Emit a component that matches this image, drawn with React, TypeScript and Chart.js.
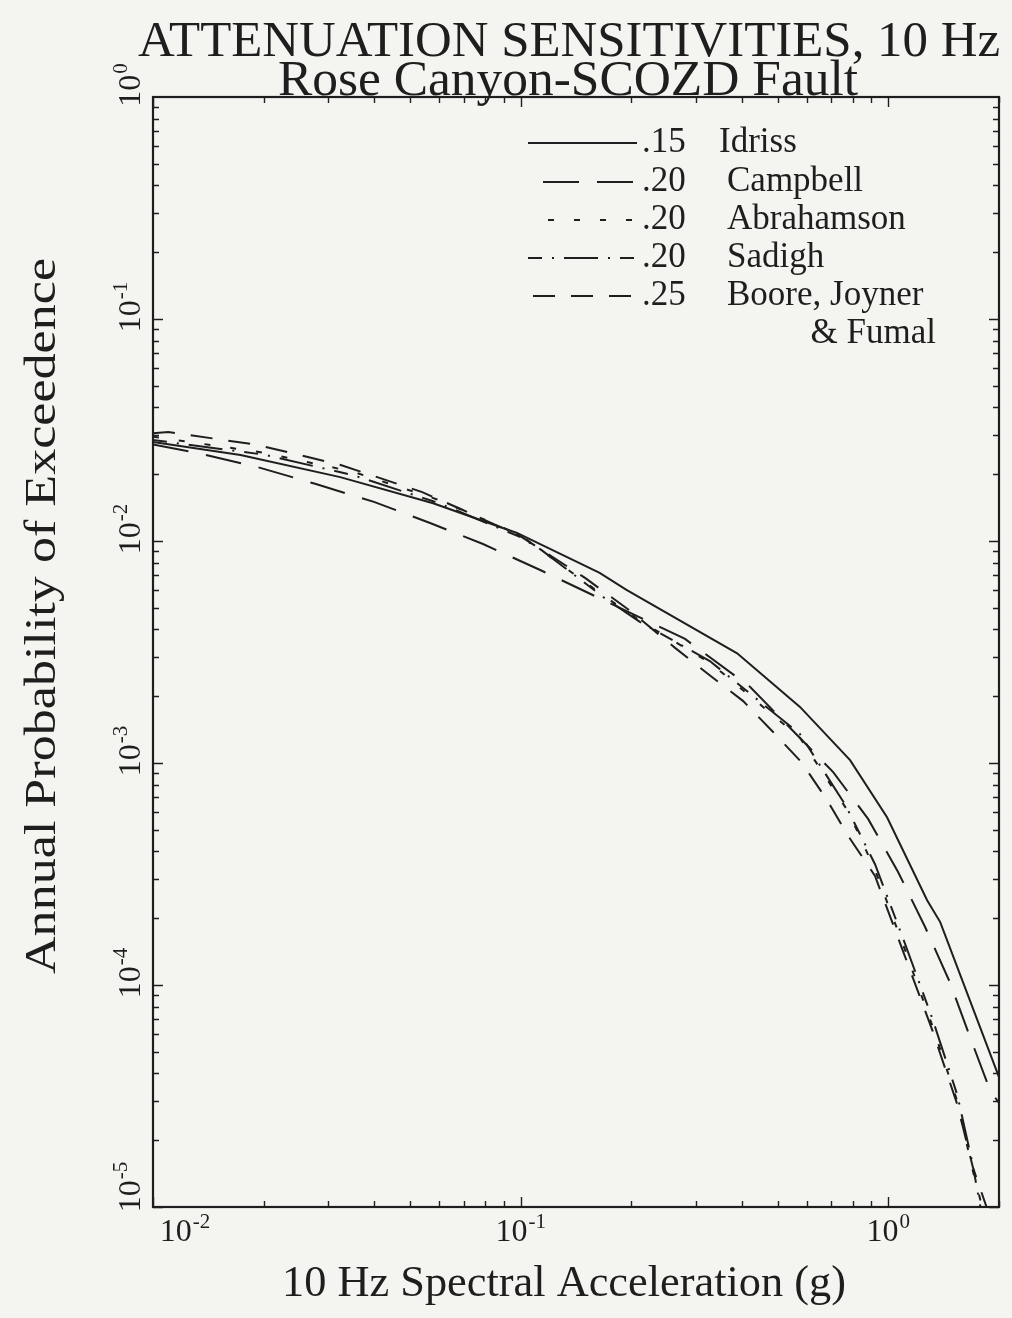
import React, { useEffect, useRef } from "react";
import { Chart, registerables } from "chart.js";

Chart.register(...registerables);

// ---- texts ----
const TITLE = "ATTENUATION SENSITIVITIES, 10 Hz";
const SUBTITLE = "Rose Canyon-SCOZD Fault";
const X_TITLE = "10 Hz Spectral Acceleration (g)";
const Y_TITLE = "Annual Probability of Exceedence";

// ---- legend ----
const MODELS = ["Idriss", "Campbell", "Abrahamson", "Sadigh", "Boore, Joyner"];
const MODEL_EXTRA = ["", "", "", "", "& Fumal"];
const SIGMAS = [".15", ".20", ".20", ".20", ".25"];

// ---- axes ----
const X_MIN = 0.01;
const X_MAX = 2;
const Y_MIN = 0.00001;
const Y_MAX = 1;
const X_TICK_VALUES = [0.01, 0.1, 1];
const X_TICK_EXPONENTS = ["-2", "-1", "0"];
const Y_TICK_VALUES = [1, 0.1, 0.01, 0.001, 0.0001, 0.00001];
const Y_TICK_EXPONENTS = ["0", "-1", "-2", "-3", "-4", "-5"];

// ---- series (acceleration g, annual probability) ----
const IDRISS_X = [0.01, 0.0173, 0.0323, 0.0578, 0.0977, 0.164, 0.194, 0.388, 0.575, 0.787, 0.992, 1.275, 1.384, 2.0];
const IDRISS_Y = [0.0279, 0.0244, 0.0194, 0.0148, 0.01087, 0.00718, 0.00602, 0.00312, 0.00179, 0.00103, 0.00057, 0.000241, 0.000192, 0.0000385];

const CAMPBELL_X = [0.01, 0.01324, 0.0193, 0.0276, 0.0399, 0.0567, 0.079, 0.113, 0.157, 0.28, 0.421, 0.708, 0.881, 1.063, 1.26, 1.47, 1.67, 1.89, 2.0];
const CAMPBELL_Y = [0.0272, 0.0249, 0.0215, 0.0181, 0.015, 0.01205, 0.00969, 0.0074, 0.00571, 0.00362, 0.0022, 0.00091, 0.00056, 0.000323, 0.000182, 0.000103, 0.000058, 0.0000336, 0.0000294];

const ABRAHAMSON_X = [0.01, 0.02, 0.035, 0.06, 0.1, 0.17, 0.21, 0.33, 0.575, 0.78, 0.92, 1.1, 1.32, 1.54, 1.69, 1.8];
const ABRAHAMSON_Y = [0.0295, 0.025, 0.0205, 0.0153, 0.0106, 0.0056, 0.0044, 0.0028, 0.0013, 0.0006, 0.00033, 0.00015, 0.000065, 0.00003, 0.000015, 0.00001];

const SADIGH_X = [0.01, 0.02, 0.035, 0.06, 0.1, 0.114, 0.169, 0.211, 0.327, 0.575, 0.763, 0.92, 1.1, 1.32, 1.54, 1.69, 1.78];
const SADIGH_Y = [0.0285, 0.0245, 0.0198, 0.0148, 0.0104, 0.0091, 0.00554, 0.00432, 0.00288, 0.00135, 0.00065, 0.00035, 0.00016, 0.00007, 0.000032, 0.000016, 0.00001];

const BOORE_X = [0.01, 0.011, 0.0192, 0.0324, 0.054, 0.0689, 0.1, 0.15, 0.2, 0.263, 0.326, 0.403, 0.486, 0.58, 0.678, 0.778, 0.92, 1.1, 1.32, 1.54, 1.7, 1.85];
const BOORE_Y = [0.0306, 0.031, 0.0271, 0.022, 0.0166, 0.0139, 0.0105, 0.0068, 0.0048, 0.0033, 0.00249, 0.0019, 0.00138, 0.00101, 0.00069, 0.000469, 0.00031, 0.00014, 0.000062, 0.000029, 0.000015, 0.00001];

const SERIES_X = [IDRISS_X, CAMPBELL_X, ABRAHAMSON_X, SADIGH_X, BOORE_X];
const SERIES_Y = [IDRISS_Y, CAMPBELL_Y, ABRAHAMSON_Y, SADIGH_Y, BOORE_Y];
const DASHES: number[][] = [[], [36, 18], [6, 20], [14, 10, 2, 10, 34, 10, 2, 10], [22, 16]];

const INK = "#1e1e1e";
const BG = "#f4f4f1";
const FONT = "'Liberation Serif', 'DejaVu Serif', serif";

function drawPow(ctx: CanvasRenderingContext2D, x: number, y: number, exp: string, base: number, sup: number, align: "center" | "left") {
  ctx.font = `${base}px ${FONT}`;
  const wb = ctx.measureText("10").width;
  ctx.font = `${sup}px ${FONT}`;
  const ws = ctx.measureText(exp).width;
  const total = wb + 1 + ws;
  const x0 = align === "center" ? x - total / 2 : x;
  ctx.textAlign = "left";
  ctx.textBaseline = "alphabetic";
  ctx.font = `${base}px ${FONT}`;
  ctx.fillText("10", x0, y);
  ctx.font = `${sup}px ${FONT}`;
  ctx.fillText(exp, x0 + wb + 1, y - base * 0.42);
  return total;
}

function fillStretched(ctx: CanvasRenderingContext2D, text: string, cx: number, baseline: number, targetWidth: number) {
  const w = ctx.measureText(text).width;
  const s = targetWidth / w;
  ctx.save();
  ctx.translate(cx, baseline);
  ctx.scale(s, 1);
  ctx.textAlign = "center";
  ctx.textBaseline = "alphabetic";
  ctx.fillText(text, 0, 0);
  ctx.restore();
}

const decorPlugin = {
  id: "decor",
  beforeDraw(chart: any) {
    const ctx = chart.ctx as CanvasRenderingContext2D;
    ctx.save();
    ctx.fillStyle = BG;
    ctx.fillRect(0, 0, chart.width, chart.height);
    ctx.restore();
  },
  afterDraw(chart: any) {
    const ctx = chart.ctx as CanvasRenderingContext2D;
    const { left, right, top, bottom } = chart.chartArea;
    const xs = chart.scales.x;
    const ys = chart.scales.y;
    ctx.save();
    ctx.strokeStyle = INK;
    ctx.fillStyle = INK;

    // frame
    ctx.lineWidth = 2.2;
    ctx.setLineDash([]);
    ctx.strokeRect(left, top, right - left, bottom - top);

    // ticks (inside, all four sides)
    ctx.lineWidth = 1.4;
    for (let d = -2; d <= 0; d++) {
      for (let m = 1; m <= 9; m++) {
        const v = m * Math.pow(10, d);
        if (v < X_MIN - 1e-12 || v > X_MAX + 1e-12) continue;
        const px = Math.round(xs.getPixelForValue(v)) + 0.5;
        const len = m === 1 ? 10 : 6;
        ctx.beginPath();
        ctx.moveTo(px, bottom);
        ctx.lineTo(px, bottom - len);
        ctx.moveTo(px, top);
        ctx.lineTo(px, top + len);
        ctx.stroke();
      }
    }
    for (let d = -5; d <= -1; d++) {
      for (let m = 1; m <= 9; m++) {
        const v = m * Math.pow(10, d);
        if (v < Y_MIN - 1e-15 || v > Y_MAX) continue;
        const py = Math.round(ys.getPixelForValue(v)) + 0.5;
        const len = m === 1 ? 10 : 6;
        ctx.beginPath();
        ctx.moveTo(left, py);
        ctx.lineTo(left + len, py);
        ctx.moveTo(right, py);
        ctx.lineTo(right - len, py);
        ctx.stroke();
      }
    }

    // x tick labels
    X_TICK_VALUES.forEach((v, i) => {
      const px = xs.getPixelForValue(v);
      ctx.font = `32px ${FONT}`;
      const w = ctx.measureText("10").width + 1 + 21 * 0.5 * X_TICK_EXPONENTS[i].length;
      const cx = Math.max(px, left + 5 + w / 2);
      drawPow(ctx, cx, bottom + 34, X_TICK_EXPONENTS[i], 32, 21, "center");
    });

    // y tick labels (rotated)
    Y_TICK_VALUES.forEach((v, i) => {
      const py = ys.getPixelForValue(v);
      const cy = Math.min(py - 12, bottom - 20);
      ctx.save();
      ctx.translate(left - 13, cy);
      ctx.rotate(-Math.PI / 2);
      drawPow(ctx, 0, 0, Y_TICK_EXPONENTS[i], 32, 21, "center");
      ctx.restore();
    });

    // titles
    ctx.font = `51px ${FONT}`;
    fillStretched(ctx, TITLE, 569, 56, 862);
    ctx.font = `51px ${FONT}`;
    fillStretched(ctx, SUBTITLE, 568, 95, 580);
    ctx.font = `44px ${FONT}`;
    fillStretched(ctx, X_TITLE, 564, 1296, 564);
    ctx.save();
    ctx.translate(55, 616);
    ctx.rotate(-Math.PI / 2);
    ctx.font = `44px ${FONT}`;
    fillStretched(ctx, Y_TITLE, 0, 0, 716);
    ctx.restore();

    // legend
    const rowY = [143, 182, 220, 258, 296];
    chart.data.datasets.forEach((ds: any, i: number) => {
      const y = rowY[i];
      ctx.lineWidth = 2;
      ctx.setLineDash(ds.borderDash || []);
      ctx.beginPath();
      ctx.moveTo(i === 1 ? 543 : i === 2 ? 548 : i === 4 ? 533 : 528, y);
      ctx.lineTo(637, y);
      ctx.stroke();
      ctx.setLineDash([]);
      ctx.textAlign = "left";
      ctx.textBaseline = "middle";
      ctx.font = `35px ${FONT}`;
      ctx.fillText(SIGMAS[i], 642, y);
      ctx.fillText(MODELS[i], i === 0 ? 719 : 727, y);
      if (MODEL_EXTRA[i]) {
        ctx.textAlign = "right";
        ctx.fillText(MODEL_EXTRA[i], 936, y + 38);
      }
    });
    ctx.restore();
  },
};

export default function App() {
  const ref = useRef<HTMLCanvasElement | null>(null);
  useEffect(() => {
    if (!ref.current) return;
    const datasets = SERIES_X.map((xs, i) => ({
      label: `${SIGMAS[i]} ${MODELS[i]}`,
      data: xs.map((x, j) => ({ x, y: SERIES_Y[i][j] })),
      borderColor: INK,
      borderWidth: 2,
      borderDash: DASHES[i],
      pointRadius: 0,
      tension: 0,
      fill: false,
    }));
    const chart = new Chart(ref.current, {
      type: "line",
      data: { datasets },
      options: {
        animation: false,
        responsive: false,
        devicePixelRatio: 1,
        layout: { padding: { left: 153, top: 97, right: 13, bottom: 111 } },
        scales: {
          x: { type: "logarithmic", min: X_MIN, max: X_MAX, display: false },
          y: { type: "logarithmic", min: Y_MIN, max: Y_MAX, display: false },
        },
        plugins: { legend: { display: false }, tooltip: { enabled: false }, title: { display: false } },
      },
      plugins: [decorPlugin],
    } as any);
    return () => chart.destroy();
  }, []);
  return (
    <div style={{ position: "absolute", left: 0, top: 0, width: 1012, height: 1318 }}>
      <canvas ref={ref} width={1012} height={1318} style={{ display: "block" }} />
    </div>
  );
}
